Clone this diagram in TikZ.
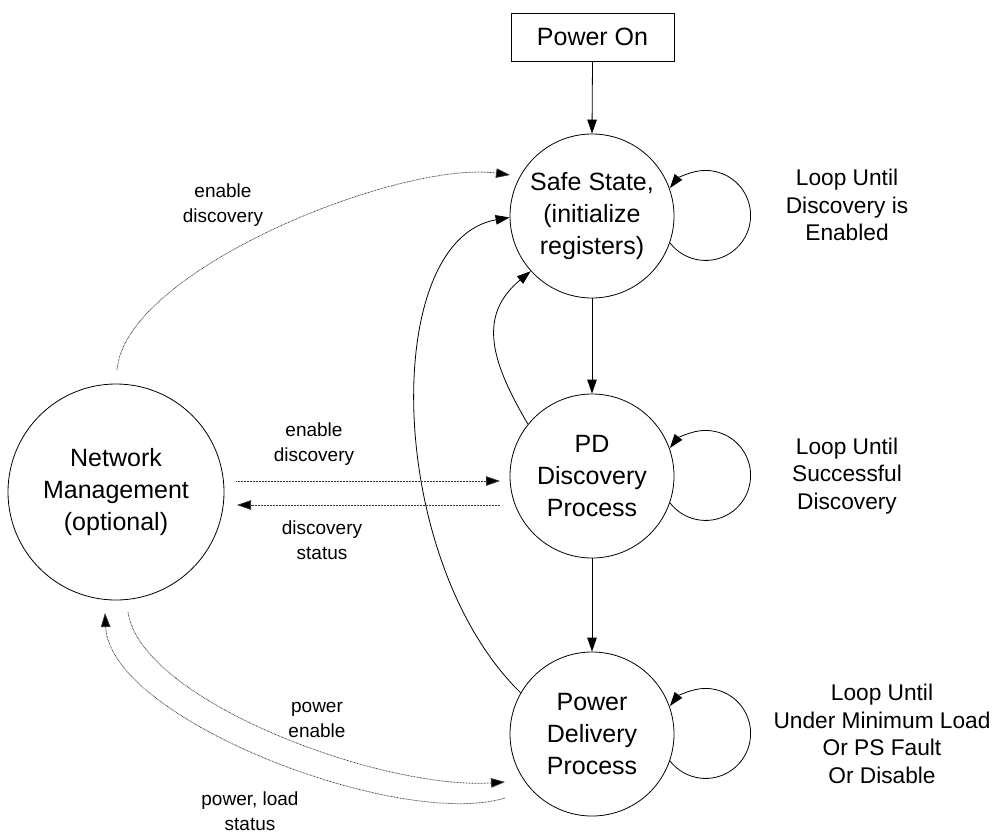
\documentclass[tikz,border=0pt]{standalone}
\usepackage{fontspec}
\setmainfont{Liberation Sans}
\usetikzlibrary{arrows.meta}
\begin{document}
\begin{tikzpicture}[x=1pt,y=-1pt,
  state/.style={circle,draw,line width=0.8pt,minimum size=164pt,inner sep=0pt,align=center,font=\fontsize{25}{32}\selectfont},
  bigstate/.style={state,minimum size=216pt},
  box/.style={draw,line width=1pt,minimum width=163pt,minimum height=48pt,inner sep=0pt,font=\fontsize{25}{30}\selectfont},
  looptext/.style={align=center,font=\fontsize{22.7}{27.5}\selectfont},
  lbl/.style={align=center,font=\fontsize{19}{25}\selectfont},
  conn/.style={line width=0.8pt},
  arr/.style={conn,-{Triangle[length=14pt,width=9.5pt]}},
  dots/.style={line width=0.75pt,dash pattern=on 0.75pt off 0.75pt,black!80,-{Triangle[length=14pt,width=9.5pt,fill=black]}},
]
\useasboundingbox (0,0) rectangle (1008,835);

% nodes
\node[box] (po) at (592.5,37) {Power On};
\node[state] (ss) at (592,216) {Safe State,\\(initialize\\registers)};
\node[state] (pd) at (592,476) {PD\\Discovery\\Process};
\node[state] (pdel) at (592,734) {Power\\Delivery\\Process};
\node[bigstate] (nm) at (116,492) {Network\\Management\\(optional)};

% loop texts
\node[looptext] (lp1) at (847,205) {Loop Until\\Discovery is\\Enabled};
\node[looptext] (lp2) at (847,476) {Loop Until\\Successful\\Discovery};
\node[looptext] (lp3) at (882,734) {Loop Until\\Under Minimum Load\\Or PS Fault\\Or Disable};

% edge labels
\node[lbl] (l1) at (223,205) {enable\\discovery};
\node[lbl] (l2) at (314,444) {enable\\discovery};
\node[lbl] (l3) at (322,540) {discovery\\status};
\node[lbl] (l4) at (317,720) {power\\enable};
\node[lbl] (l5) at (250,811) {power, load\\status};

% free ends of dotted connectors
\coordinate (nmTop) at (117,370);
\coordinate (ssIn) at (510,175);
\coordinate (nmR1) at (236,481);
\coordinate (pdIn) at (500,481);
\coordinate (pdOut) at (500,505);
\coordinate (nmR2) at (237,505);
\coordinate (nmB1) at (128,612);
\coordinate (pdelIn) at (505,782);
\coordinate (pdelOut) at (505,798);
\coordinate (nmB2) at (105,613);

% straight transitions
\draw[arr] (po.south) -- (ss.north);
\draw[arr] (ss.south) -- (pd.north);
\draw[arr] (pd.south) -- (pdel.north);

% curved returns
\draw[arr] (pd.141.7) .. controls (490,360) and (478,315) .. (ss.222.6);
\draw[arr] (pdel.150) .. controls (385,560) and (380,240) .. (ss.181);

% self loops
\draw[arr] (ss.-19.5) arc[start angle=217.5, end angle=502.5, radius=45pt];
\draw[arr] (pd.-19.5) arc[start angle=217.5, end angle=502.5, radius=45pt];
\draw[arr] (pdel.-19.5) arc[start angle=217.5, end angle=502.5, radius=45pt];

% dotted management connectors
\draw[dots] (nmTop) .. controls (125,270) and (400,160) .. (ssIn);
\draw[dots] (nmR1) -- (pdIn);
\draw[dots] (pdOut) -- (nmR2);
\draw[dots] (nmB1) .. controls (140,700) and (380,790) .. (pdelIn);
\draw[dots] (pdelOut) .. controls (400,830) and (110,720) .. (nmB2);
\end{tikzpicture}
\end{document}
